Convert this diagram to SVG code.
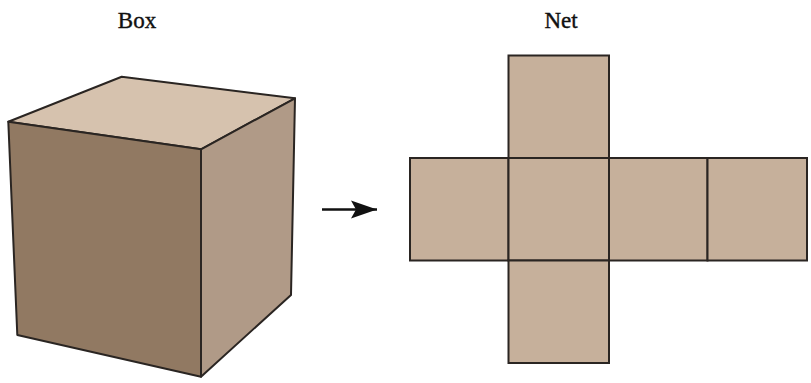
<svg xmlns="http://www.w3.org/2000/svg" width="811" height="383" viewBox="0 0 811 383">
  <style>
    .lbl { font-family: "Liberation Serif", "Times New Roman", serif; font-size: 23px; fill: #111; stroke: #111; stroke-width: 0.4; text-anchor: middle; }
    .edge { stroke: #2a2522; stroke-width: 2; stroke-linejoin: round; }
    .face { fill: #c6b09b; stroke: #2a2522; stroke-width: 2; }
  </style>
  <defs>
    <marker id="head" markerWidth="26" markerHeight="20" refX="26" refY="10" orient="auto" markerUnits="userSpaceOnUse" viewBox="0 0 26 20">
      <path d="M0,1 L26,10 L0,19 L5,10 Z" fill="#111"/>
    </marker>
  </defs>
  <rect width="811" height="383" fill="#fff"/>

  <g id="box">
    <text class="lbl" x="137" y="28">Box</text>
    <polygon class="edge" fill="#d6c2ae" points="121.7,76.7 295,98.3 201,149.3 8.3,121.7"/>
    <polygon class="edge" fill="#917962" points="8.3,121.7 201,149.3 201,376.7 17.3,335"/>
    <polygon class="edge" fill="#b09a87" points="201,149.3 295,98.3 291,295 201,376.7"/>
  </g>

  <g id="connectors">
    <line x1="322" y1="209.5" x2="377" y2="209.5" stroke="#111" stroke-width="2.5" marker-end="url(#head)"/>
  </g>

  <g id="net">
    <text class="lbl" x="561" y="28">Net</text>
    <rect class="face" x="508.5" y="55.5" width="100.5" height="102.5"/>
    <rect class="face" x="410" y="158" width="98.5" height="102.5"/>
    <rect class="face" x="508.5" y="158" width="100.5" height="102.5"/>
    <rect class="face" x="609" y="158" width="98.5" height="102.5"/>
    <rect class="face" x="707.5" y="158" width="99.5" height="102.5"/>
    <rect class="face" x="508.5" y="260.5" width="100.5" height="102.5"/>
  </g>
</svg>
